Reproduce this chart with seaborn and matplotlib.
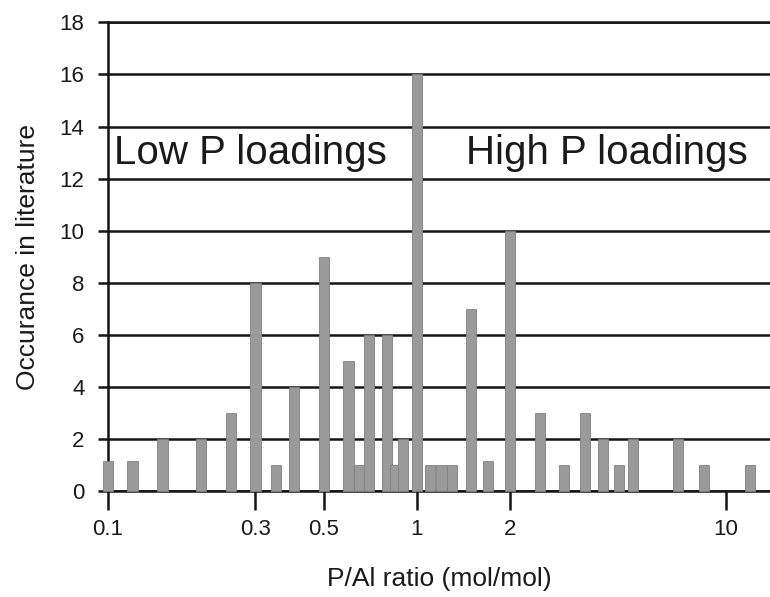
import numpy as np
import pandas as pd
import matplotlib
matplotlib.use("Agg")
import matplotlib.pyplot as plt
from matplotlib.ticker import NullLocator
import seaborn as sns

# P/Al molar ratios reported and how often each appears in the literature
ratio = [0.1, 0.12, 0.15, 0.2, 0.25, 0.3, 0.35, 0.4, 0.5, 0.6, 0.65, 0.7,
         0.8, 0.85, 0.9, 1.0, 1.1, 1.2, 1.3, 1.5, 1.7, 2.0, 2.5, 3.0, 3.5,
         4.0, 4.5, 5.0, 7.0, 8.5, 12.0]
occurrence = [1.15, 1.15, 2, 2, 3, 8, 1, 4, 9, 5, 1, 6,
              6, 1, 2, 16, 1, 1, 1, 7, 1.15, 10, 3, 1, 3,
              2, 1, 2, 2, 1, 1]

x_ticks = [0.1, 0.3, 0.5, 1, 2, 10]
x_tick_labels = ["0.1", "0.3", "0.5", "1", "2", "10"]
y_ticks = list(range(0, 19, 2))

df = pd.DataFrame({"ratio": ratio, "occurrence": occurrence})

sns.set_theme(style="white")
plt.rcParams["font.family"] = ["Liberation Sans", "DejaVu Sans"]

fig = plt.figure(figsize=(7.7, 5.97), dpi=100)
ax = fig.add_axes([0.1403, 0.178, 0.8597, 0.7844])

# constant bar width in log space (decades)
bar_decades = 0.0333
min_gap = np.min(np.diff(np.unique(np.log10(ratio))))

sns.barplot(data=df, x="ratio", y="occurrence", native_scale=True,
            log_scale=(True, False), orient="x", errorbar=None,
            width=bar_decades / min_gap, color="#9a9a9a", saturation=1,
            edgecolor="#808080", linewidth=0.6, ax=ax,
            clip_on=False, zorder=3)

ax.set_xlim(0.1, 13.9)
ax.set_ylim(0, 18)
ax.set_xticks(x_ticks)
ax.set_xticklabels(x_tick_labels)
ax.xaxis.set_minor_locator(NullLocator())
ax.set_yticks(y_ticks)

ax.set_axisbelow(True)
ax.yaxis.grid(True, color="#141414", linewidth=1.8)
ax.xaxis.grid(False)

for side in ["left", "bottom", "top"]:
    ax.spines[side].set_visible(True)
    ax.spines[side].set_color("#141414")
    ax.spines[side].set_linewidth(1.8)
ax.spines["right"].set_visible(False)

ax.tick_params(axis="y", which="major", direction="out", length=7, width=1.8,
               color="#141414", labelsize=16, pad=10, left=True, labelcolor="#1a1a1a")
ax.tick_params(axis="x", which="major", direction="out", length=14, width=1.8,
               color="#141414", labelsize=16, pad=6, bottom=True, labelcolor="#1a1a1a")

ax.set_xlabel("P/Al ratio (mol/mol)", fontsize=19, labelpad=20, color="#1a1a1a")
ax.set_ylabel("Occurance in literature", fontsize=19, labelpad=14, color="#1a1a1a")

ax.text(0.1046, 12.56, "Low P loadings", fontsize=29, va="baseline", ha="left",
        color="#1a1a1a", zorder=4)
ax.text(1.44, 12.56, "High P loadings", fontsize=29, va="baseline", ha="left",
        color="#1a1a1a", zorder=4)

fig.savefig("out.png", dpi=100, facecolor="white")
